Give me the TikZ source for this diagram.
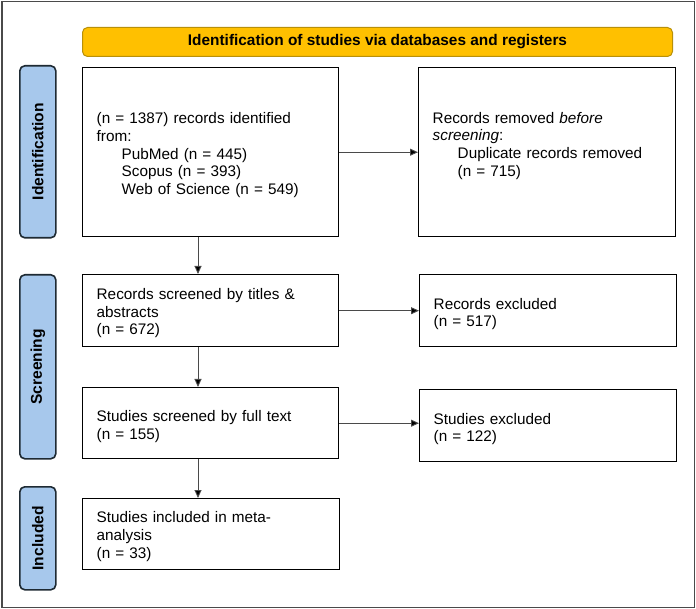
\documentclass[tikz,border=0pt]{standalone}
\usepackage{fontspec}
\setmainfont{Liberation Sans}
\usetikzlibrary{arrows.meta}
\definecolor{bannerfill}{HTML}{FFC000}
\definecolor{bannerdraw}{HTML}{B8900A}
\definecolor{labelfill}{HTML}{A7C8EC}
\definecolor{labeldraw}{HTML}{1E2A33}
\definecolor{linegray}{HTML}{4A4A4A}
\newcommand\toppad[1]{\rule{0pt}{#1pt}}
\tikzset{
  x=1pt, y=-1pt,
  every node/.style={font=\fontsize{15.3}{17.75}\selectfont, inner sep=0pt},
  box/.style={draw=black, line width=1.4pt, fill=white, align=left, inner xsep=14pt, anchor=north west},
  phase/.style={draw=labeldraw, fill=labelfill, line width=1.6pt, rounded corners=5pt, anchor=north west,
    minimum width=36pt},
  phasetext/.style={font=\bfseries\fontsize{15.6}{17.75}\selectfont, rotate=90},
  banner/.style={draw=bannerdraw, fill=bannerfill, line width=1pt, rounded corners=5pt, anchor=north west,
    font=\bfseries\fontsize{15.4}{17.75}\selectfont},
  flow/.style={draw=linegray, line width=0.9pt, -{Triangle[length=8pt,width=7pt,fill=black]}},
}
\begin{document}
\begin{tikzpicture}
\useasboundingbox (0,0) rectangle (696,609);
\draw[draw=linegray, line width=1.2pt] (2,1.5) rectangle (694.5,607.5);

\node[banner, minimum width=590, minimum height=29] (banner) at (82,27) {Identification of studies via databases and registers};

\node[phase, minimum height=172] (pid) at (19,65) {};
\node[phasetext] (pidt) at (pid.center) {Identification};
\node[phase, minimum height=184] (psc) at (19,274) {};
\node[phasetext] (psct) at (psc.center) {Screening};
\node[phase, minimum height=103] (pin) at (19,486) {};
\node[phasetext] (pint) at (pin.center) {Included};

\node[box, minimum width=256, minimum height=169, text width=228] (ident) at (82,67)
  {\toppad{17}(n = 1387) records identified\\ from:\\ \hspace*{25pt}PubMed (n = 445)\\ \hspace*{25pt}Scopus (n = 393)\\ \hspace*{25pt}Web of Science (n = 549)};
\node[box, minimum width=257, minimum height=169, text width=229] (removed) at (418,67)
  {\toppad{13}Records removed \textit{before}\\ \textit{screening}:\\ \hspace*{25pt}Duplicate records removed\\ \hspace*{25pt}(n = 715)\\ \mbox{}};

\node[box, minimum width=256, minimum height=72, text width=228] (screen) at (82,274)
  {\toppad{16}Records screened by titles \&\\ abstracts\\ (n = 672)};
\node[box, minimum width=257, minimum height=72, text width=229] (recexc) at (419,274)
  {\toppad{18}Records excluded\\ (n = 517)};

\node[box, minimum width=256, minimum height=71, text width=228] (full) at (82,387)
  {\toppad{18}Studies screened by full text\\ (n = 155)};
\node[box, minimum width=257, minimum height=72, text width=229] (stexc) at (419,389)
  {\toppad{18}Studies excluded\\ (n = 122)};

\node[box, minimum width=257, minimum height=71, text width=229] (incl) at (82,498)
  {\toppad{16}Studies included in meta-\\ analysis\\ (n = 33)};

\draw[flow] (ident.east) -- (removed.west);
\draw[flow] (ident.south -| 198,0) -- (screen.north -| 198,0);
\draw[flow] (screen.east) -- (screen.east -| recexc.west);
\draw[flow] (screen.south -| 198,0) -- (full.north -| 198,0);
\draw[flow] (full.east) -- (full.east -| stexc.west);
\draw[flow] (full.south -| 198,0) -- (incl.north -| 198,0);
\end{tikzpicture}
\end{document}
